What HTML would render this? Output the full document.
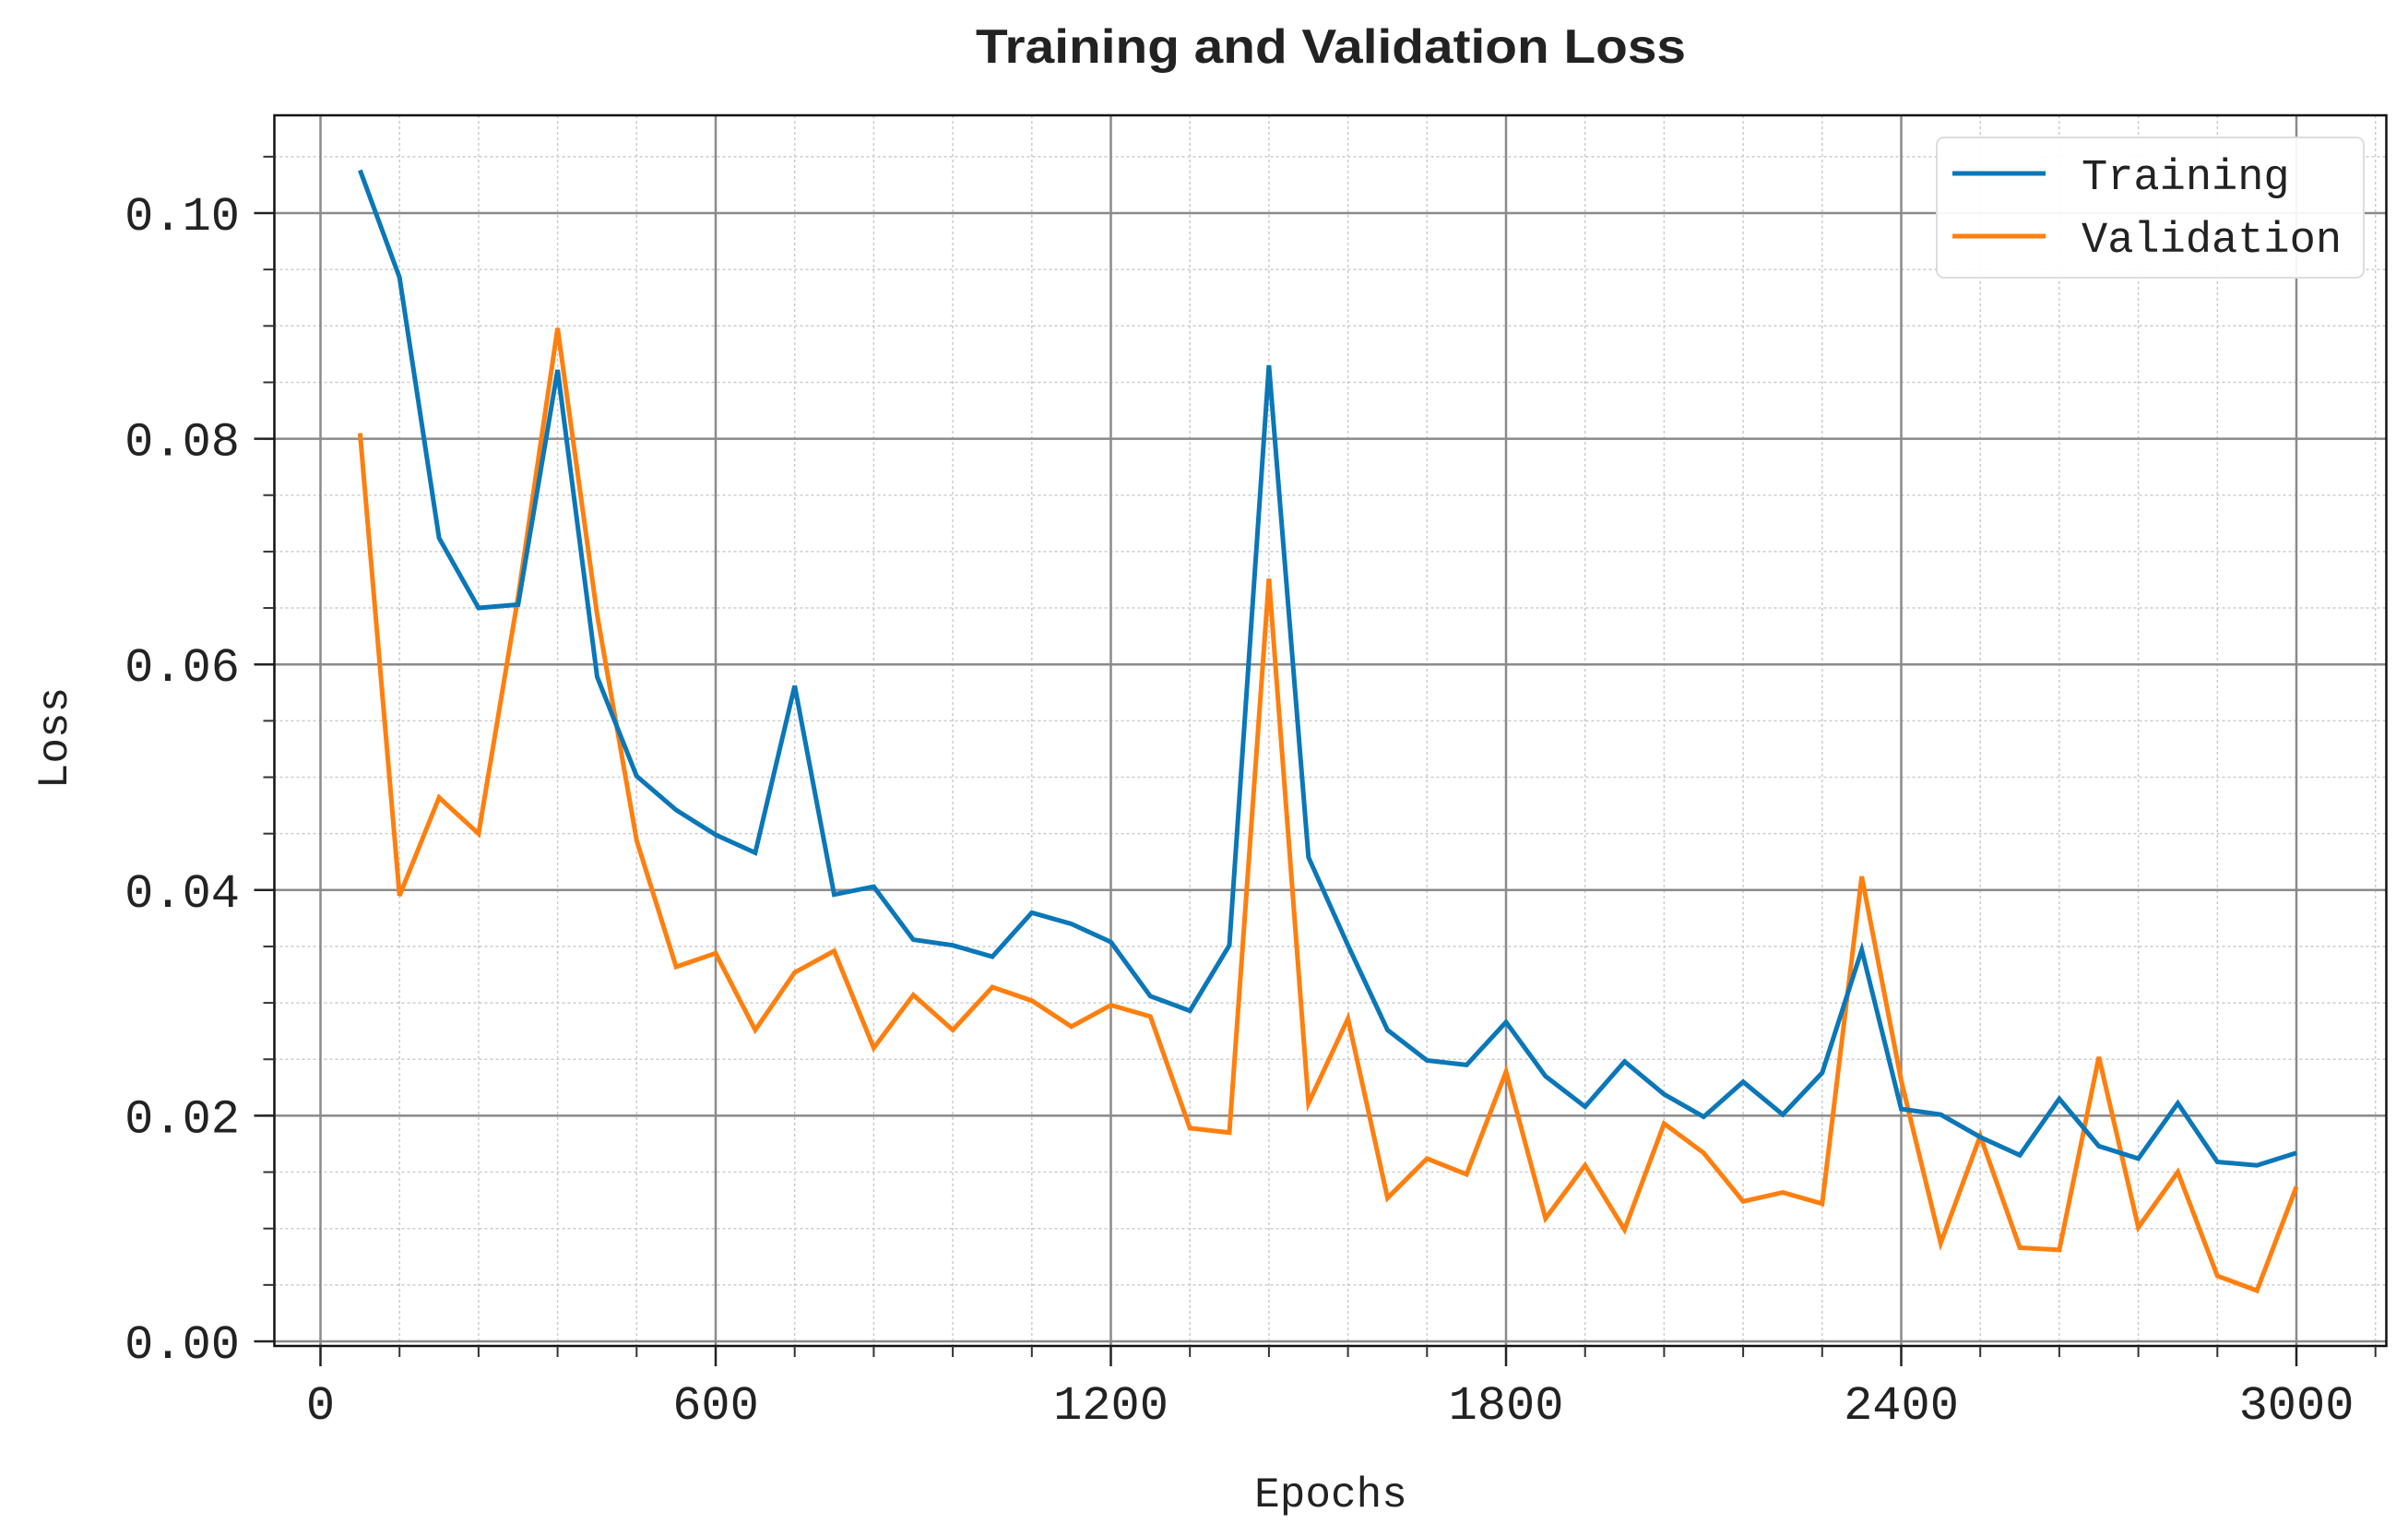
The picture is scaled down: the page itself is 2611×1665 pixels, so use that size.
<!DOCTYPE html>
<html><head><meta charset="utf-8">
<style>
html,body{margin:0;padding:0;background:#fff;}
svg{display:block;}
text{font-family:"Liberation Mono","DejaVu Sans Mono",monospace;fill:#222;}
</style></head>
<body>
<svg id="chart" width="2611" height="1665" viewBox="0 0 2611 1665" xmlns="http://www.w3.org/2000/svg">
<text x="1443" y="68" text-anchor="middle" font-size="52" font-weight="bold" textLength="770" lengthAdjust="spacingAndGlyphs" style="font-family:'Liberation Sans',sans-serif">Training and Validation Loss</text>
<g id="grid"></g>
<g id="series"></g>
<rect x="297.5" y="125" width="2290" height="1334" fill="none" stroke="#111" stroke-width="2.5"/>
<g id="ticks"></g>
<text x="1443" y="1633" text-anchor="middle" font-size="46">Epochs</text>
<text x="0" y="0" text-anchor="middle" font-size="46" transform="translate(72,800) rotate(-90)">Loss</text>
<g>
<rect x="2100" y="149" width="463" height="152" rx="8" fill="#fff" fill-opacity="0.92" stroke="#ddd" stroke-width="2"/>
<line x1="2117" y1="188" x2="2218" y2="188" stroke="#0a77b8" stroke-width="5"/>
<text x="2257" y="205" font-size="47">Training</text>
<line x1="2117" y1="256" x2="2218" y2="256" stroke="#ff7f0e" stroke-width="5"/>
<text x="2257" y="273" font-size="47">Validation</text>
</g>
</svg>
<script>
const epochs = [60,120,180,240,300,360,420,480,540,600,660,720,780,840,900,960,1020,1080,1140,1200,1260,1320,1380,1440,1500,1560,1620,1680,1740,1800,1860,1920,1980,2040,2100,2160,2220,2280,2340,2400,2460,2520,2580,2640,2700,2760,2820,2880,2940,3000];
const trainingLoss = [.1038,.0943,.0712,.0650,.0653,.0861,.0589,.0501,.0471,.0449,.0433,.0581,.0396,.0403,.0356,.0351,.0341,.0380,.0370,.0354,.0306,.0293,.0351,.0865,.0429,.0351,.0276,.0249,.0245,.0283,.0235,.0208,.0248,.0219,.0199,.0230,.0201,.0238,.0347,.0206,.0201,.0181,.0165,.0215,.0173,.0162,.0211,.0159,.0156,.0167];
const validationLoss = [.0805,.0395,.0482,.0450,.0660,.0898,.0644,.0444,.0332,.0344,.0276,.0327,.0346,.0260,.0307,.0276,.0314,.0302,.0279,.0298,.0288,.0189,.0185,.0676,.0211,.0286,.0127,.0162,.0148,.0239,.0109,.0156,.0099,.0193,.0167,.0124,.0132,.0122,.0412,.0231,.0087,.0182,.0083,.0081,.0252,.0101,.0150,.0058,.0045,.0137];
const xTicks = [0,600,1200,1800,2400,3000];
const yTicks = [0,0.02,0.04,0.06,0.08,0.10];
const yTickLabels = ["0.00","0.02","0.04","0.06","0.08","0.10"];

const NS='http://www.w3.org/2000/svg';
const L=297.5,R=2587.5,T=125,B=1459;
function xs(v){return 347.5+v*(2490-347.5)/3000;}
function ys(v){return 1454-v*(1454-231)/0.10;}
function mk(tag,attrs,parent){const e=document.createElementNS(NS,tag);for(const k in attrs)e.setAttribute(k,attrs[k]);parent.appendChild(e);return e;}
const grid=document.getElementById('grid'),ticks=document.getElementById('ticks'),series=document.getElementById('series');
// minor grid
for(let v=-120;v<=3240;v+=120){const x=xs(v);if(x<=L||x>=R)continue;
  const l=mk('line',{x1:x,x2:x,y1:T,y2:B,stroke:'#ccc','stroke-width':1.5,'stroke-dasharray':'3,3'},grid);
  
  
  const t=mk('line',{x1:x,x2:x,y1:B,y2:B+12,stroke:'#333','stroke-width':2},ticks);
  
  
}
for(let i=-1;i<=22;i++){const v=i*0.005;const y=ys(v);if(y<=T||y>=B)continue;
  const l=mk('line',{x1:L,x2:R,y1:y,y2:y,stroke:'#ccc','stroke-width':1.5,'stroke-dasharray':'3,3'},grid);
  
  
  const t=mk('line',{x1:L-12,x2:L,y1:y,y2:y,stroke:'#333','stroke-width':2},ticks);
  
  
}
xTicks.forEach(v=>{const x=xs(v);
  const l=mk('line',{x1:x,x2:x,y1:T,y2:B,stroke:'#8a8a8a','stroke-width':2.5},grid);
  
  
  const t=mk('line',{x1:x,x2:x,y1:B,y2:B+22,stroke:'#222','stroke-width':2.5},ticks);
  
  
  const tx=mk('text',{x:x,y:1538,'text-anchor':'middle','font-size':52},ticks);
  tx.textContent=String(v);
  
  
});
yTicks.forEach((v,i)=>{const y=ys(v);
  const l=mk('line',{x1:L,x2:R,y1:y,y2:y,stroke:'#8a8a8a','stroke-width':2.5},grid);
  
  
  const t=mk('line',{x1:L-22,x2:L,y1:y,y2:y,stroke:'#222','stroke-width':2.5},ticks);
  
  
  const tx=mk('text',{x:260,y:y+18,'text-anchor':'end','font-size':52},ticks);
  tx.textContent=yTickLabels[i];
  
  
});
function line(vals,color,name){
  const pts=vals.map((v,i)=>xs(epochs[i]).toFixed(1)+','+ys(v).toFixed(1)).join(' ');
  const p=mk('polyline',{points:pts,fill:'none',stroke:color,'stroke-width':5,'stroke-linejoin':'miter','stroke-miterlimit':4},series);
  
  
}
line(validationLoss,'#ff7f0e','validation-line');
line(trainingLoss,'#0a77b8','training-line');
</script>
</body></html>
